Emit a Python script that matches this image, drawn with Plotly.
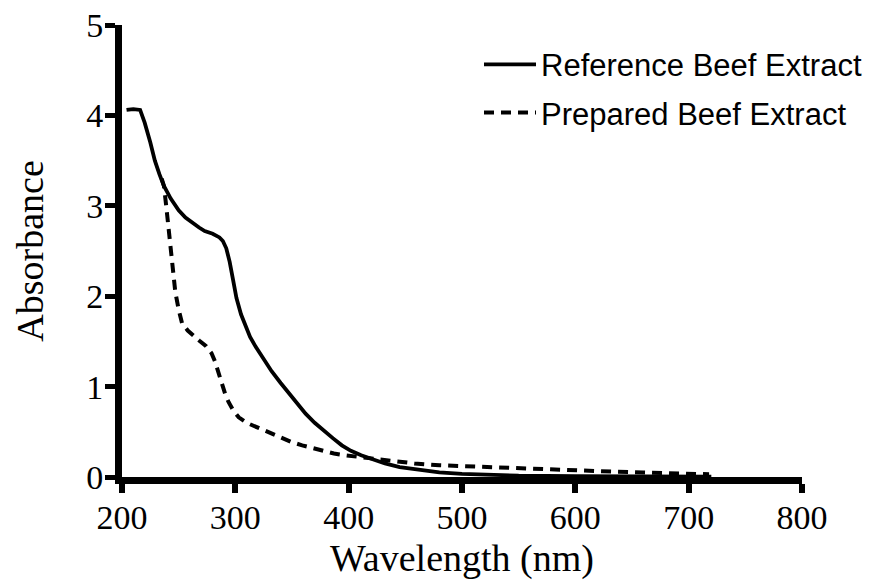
import plotly.graph_objects as go

# Reference Beef Extract (solid)
ref_wavelength = [204, 210, 216, 220, 225, 229, 233, 237, 243, 250, 256, 262, 268, 273, 280, 286, 289, 292, 295, 298,
                  301, 305, 309, 313, 318, 325, 332, 340, 347, 355, 362, 370, 378, 386, 394, 402, 411, 421, 432, 445,
                  465, 480, 500, 525, 550, 600, 650, 700, 720]
ref_absorbance = [4.06, 4.07, 4.06, 3.92, 3.70, 3.50, 3.35, 3.22, 3.08, 2.95, 2.87, 2.81, 2.76, 2.72, 2.69, 2.65, 2.61,
                  2.53, 2.38, 2.18, 1.98, 1.80, 1.67, 1.55, 1.44, 1.30, 1.17, 1.04, 0.93, 0.80, 0.70, 0.60, 0.51, 0.43,
                  0.35, 0.29, 0.24, 0.20, 0.15, 0.11, 0.08, 0.05, 0.035, 0.022, 0.015, 0.010, 0.008, 0.005, 0.004]

# Prepared Beef Extract (dashed)
prep_wavelength = [235, 237, 239, 241, 243, 245, 247, 250, 253, 258, 263, 268, 274, 279, 282, 285, 288, 291, 294, 298,
                   303, 310, 321, 330, 339, 349, 359, 368, 377, 387, 397, 410, 421, 438, 458, 480, 500, 536, 580, 620,
                   660, 697, 718]
prep_absorbance = [3.30, 3.22, 3.00, 2.75, 2.52, 2.28, 2.05, 1.85, 1.70, 1.62, 1.56, 1.51, 1.45, 1.37, 1.28, 1.15, 1.03,
                   0.92, 0.83, 0.74, 0.66, 0.60, 0.54, 0.49, 0.44, 0.39, 0.35, 0.32, 0.29, 0.26, 0.24, 0.22, 0.20, 0.17,
                   0.15, 0.13, 0.12, 0.10, 0.08, 0.065, 0.05, 0.04, 0.03]

x_ticks = [200, 300, 400, 500, 600, 700, 800]
y_ticks = [0, 1, 2, 3, 4, 5]

fig = go.Figure()
fig.add_trace(go.Scatter(x=ref_wavelength, y=ref_absorbance, mode="lines", name="Reference Beef Extract",
                         legendgroup="a", line=dict(color="black", width=3.8)))
fig.add_trace(go.Scatter(x=prep_wavelength, y=prep_absorbance, mode="lines", name="Prepared Beef Extract",
                         legendgroup="b", line=dict(color="black", width=4, dash="10px,7px")))

serif = "Liberation Serif, Times New Roman, serif"
fig.update_layout(
    width=888, height=585,
    margin=dict(l=114, r=94, t=17, b=116, autoexpand=False),
    plot_bgcolor="white", paper_bgcolor="white",
    showlegend=True,
    legend=dict(x=0.525, xanchor="left", y=0.972, yanchor="top",
                font=dict(family="Liberation Sans, Arial, sans-serif", size=31, color="black"),
                traceorder="grouped", tracegroupgap=5, bgcolor="rgba(0,0,0,0)", itemwidth=52),
    xaxis=dict(range=[200, 800], tickvals=x_ticks, showline=True, linecolor="black", linewidth=7,
               ticks="outside", ticklen=9, tickwidth=6, tickcolor="black", showgrid=False, zeroline=False,
               ticklabelstandoff=-5, ticklabeloverflow="allow",
               tickfont=dict(family=serif, size=34, color="black"),
               title=dict(text="Wavelength (nm)", font=dict(family=serif, size=38, color="black"), standoff=12)),
    yaxis=dict(range=[0, 5], tickvals=y_ticks, showline=True, linecolor="black", linewidth=7,
               ticks="outside", ticklen=10, tickwidth=5, tickcolor="black", showgrid=False, zeroline=False,
               ticklabelstandoff=-5, ticklabeloverflow="allow",
               tickfont=dict(family=serif, size=34, color="black"),
               title=dict(text="Absorbance", font=dict(family=serif, size=38, color="black"), standoff=33)),
)
fig.write_html("out.html")
